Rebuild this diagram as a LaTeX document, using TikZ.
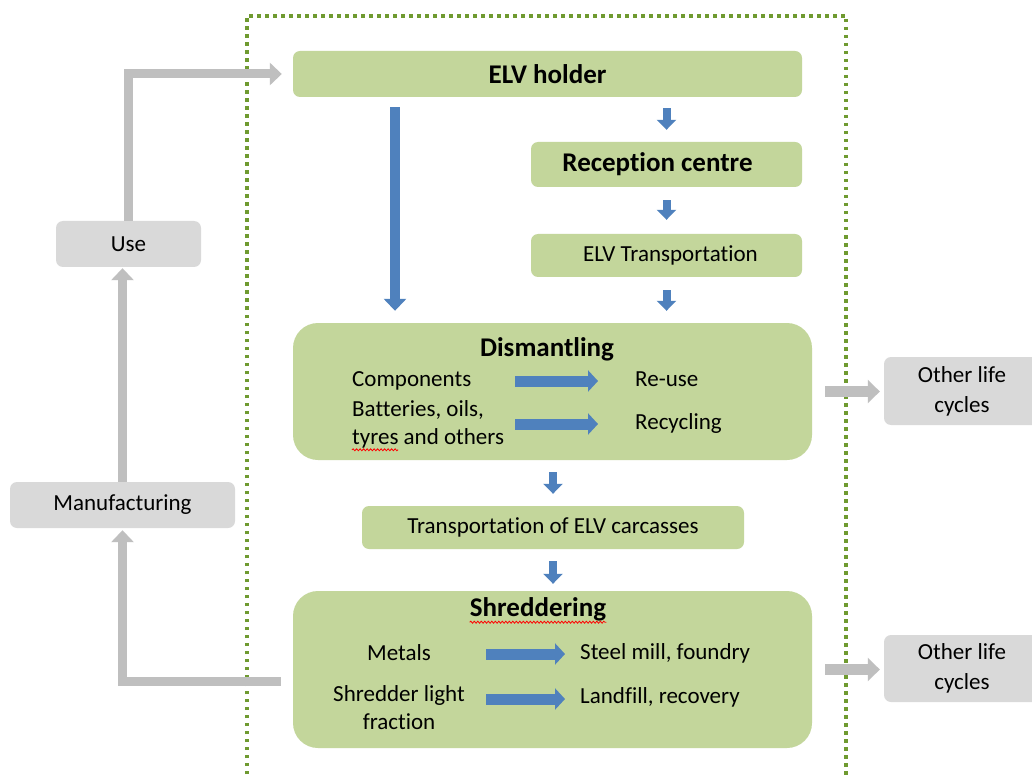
\documentclass[tikz,border=0pt]{standalone}
\usepackage{fontspec}
\setmainfont{Carlito}[Ligatures=NoCommon]
\usetikzlibrary{arrows.meta,calc,decorations.pathmorphing}
\definecolor{boxgreen}{HTML}{C3D69B}
\definecolor{boxgray}{HTML}{D9D9D9}
\definecolor{arrgray}{HTML}{BFBFBF}
\definecolor{arrblue}{HTML}{4F81BD}
\definecolor{dotgreen}{HTML}{6F9A30}
\tikzset{
  greenbox/.style={fill=boxgreen, draw=none, rounded corners=7pt, inner sep=0pt},
  bigbox/.style={fill=boxgreen, draw=none, rounded corners=25pt, inner sep=0pt},
  graybox/.style={fill=boxgray, draw=none, rounded corners=7pt, inner sep=0pt, font=\fontsize{23}{30}\selectfont, align=center},
  titletext/.style={inner sep=0pt, font=\fontsize{27}{32}\selectfont\bfseries, text height=18pt, text depth=6pt},
  plaintext/.style={inner sep=0pt, font=\fontsize{23}{28}\selectfont, text height=16pt, text depth=5pt},
  multitext/.style={inner sep=0pt, font=\fontsize{23}{28.5}\selectfont},
  smallblue/.style={draw=arrblue, line width=8pt, -{Triangle[width=19pt,length=10pt]}},
  longblue/.style={draw=arrblue, line width=10pt, -{Triangle[width=22pt,length=12pt]}},
  innerblue/.style={draw=arrblue, line width=11pt, -{Triangle[width=21pt,length=10pt]}},
  grayarrow/.style={draw=arrgray, line width=9pt, -{Triangle[width=22pt,length=12pt]}},
  sidearrow/.style={draw=arrgray, line width=11pt, -{Triangle[width=23pt,length=12pt]}},
  dottedframe/.style={draw=dotgreen, line width=3.5pt, dash pattern=on 3.5pt off 4.5pt},
  squiggle/.style={draw=red, line width=0.8pt, decorate, decoration={snake, amplitude=1pt, segment length=3.5pt}}
}
\begin{document}
\begin{tikzpicture}[x=1pt, y=-1pt]
\useasboundingbox (0,0) rectangle (1032,775);
\fill[white] (0,0) rectangle (1032,775);

% dotted system boundary
\draw[dottedframe] (247,790) -- (247,16) -- (846,16) -- (846,790);

% main boxes
\node[greenbox, minimum width=509pt, minimum height=46pt, font=\fontsize{27}{32}\selectfont\bfseries] (holder) at (547.5,74) {ELV holder};
\node[greenbox, minimum width=271pt, minimum height=45pt, font=\fontsize{27}{32}\selectfont\bfseries] (rec) at (666.5,164.5) {\hspace*{-18pt}Reception centre};
\node[greenbox, minimum width=271pt, minimum height=43pt, font=\fontsize{23}{28}\selectfont] (trans) at (666.5,255.5) {\hspace*{8pt}ELV Transportation};
\node[bigbox, minimum width=519pt, minimum height=137pt] (dis) at (552.5,391.5) {};
\node[greenbox, minimum width=382pt, minimum height=43pt, font=\fontsize{23}{28}\selectfont] (carc) at (553,527.5) {Transportation of ELV carcasses};
\node[bigbox, minimum width=519pt, minimum height=157pt] (shred) at (552.5,669.5) {};

% side boxes
\node[graybox, minimum width=145pt, minimum height=46pt] (use) at (128.5,244) {Use};
\node[graybox, minimum width=225pt, minimum height=46pt] (manu) at (122.5,505) {Manufacturing};
\node[graybox, minimum width=156pt, minimum height=68pt] (oth1) at (962,391) {Other life\\cycles};
\node[graybox, minimum width=156pt, minimum height=67pt] (oth2) at (962,668.5) {Other life\\cycles};

% dismantling contents
\node[titletext] (distitle) at (547,350) {Dismantling};
\node[plaintext, anchor=west] (comp) at (352,381) {Components};
\node[multitext, anchor=west, align=left] (bat) at (352,424.5) {Batteries, oils,\\tyres and others};
\node[plaintext, anchor=west] (reuse) at (635,381) {Re-use};
\node[plaintext, anchor=west] (recyc) at (635,424) {Recycling};
\draw[innerblue, shorten <=44pt, shorten >=37pt] (comp.east) -- (reuse.west);
\draw[innerblue, shorten >=37pt] (recyc.west -| 515,0) -- (recyc.west);
\draw[squiggle] ($(bat.south west)+(0,1)$) -- ++(46,0);

% shredder contents
\node[titletext] (shtitle) at (538,610) {Shreddering};
\node[plaintext] (metals) at (399,655) {Metals};
\node[multitext, align=center] (slf) at (399,707.5) {Shredder light\\fraction};
\node[plaintext, anchor=west] (steel) at (580,654) {Steel mill, foundry};
\node[plaintext, anchor=west] (landf) at (580,698) {Landfill, recovery};
\draw[innerblue, shorten >=15pt] (steel.west -| 486,0) -- (steel.west);
\draw[innerblue, shorten >=15pt] (486,699) -- (landf.west |- 0,699);
\draw[squiggle] ($(shtitle.south west)+(0,0)$) -- ($(shtitle.south east)+(0,0)$);

% blue flow arrows
\draw[smallblue, shorten <=11pt, shorten >=12pt] (holder.south -| rec.north) -- (rec.north);
\draw[smallblue, shorten <=13pt, shorten >=14pt] (rec.south) -- (trans.north);
\draw[smallblue, shorten <=13pt, shorten >=12pt] (trans.south) -- (trans.south |- dis.north);
\draw[longblue, shorten <=10pt, shorten >=12pt] (holder.south -| 395,0) -- (dis.north -| 395,0);
\draw[smallblue, shorten <=12pt, shorten >=12pt] (dis.south -| carc.north) -- (carc.north);
\draw[smallblue, shorten <=12pt, shorten >=7pt] (carc.south) -- (carc.south |- shred.north);

% gray cycle arrows
\coordinate (shredout) at ($(shred.west)+(-12,11.5)$);
\draw[grayarrow, shorten >=2pt] (shredout) -| (manu.south);
\draw[grayarrow, shorten >=1pt] (manu.north) -- (use.south -| manu.north);
\draw[grayarrow, shorten >=11pt] (use.north) |- (holder.west);
\draw[sidearrow, shorten <=13pt, shorten >=4pt] (dis.east) -- (oth1.west |- dis.east);
\draw[sidearrow, shorten <=13pt, shorten >=4pt] (shred.east) -- (oth2.west |- shred.east);
\end{tikzpicture}
\end{document}
